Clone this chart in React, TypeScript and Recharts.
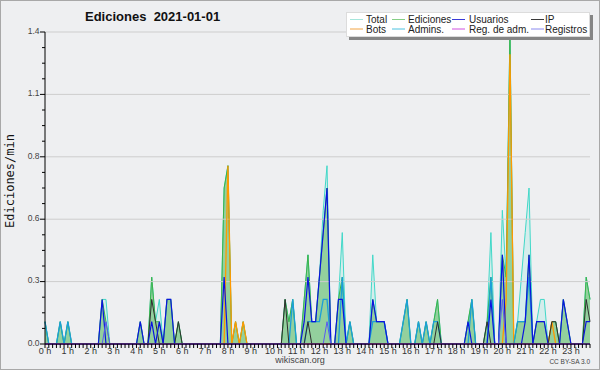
import React from 'react';
import { ComposedChart, Area, Line, XAxis, YAxis, ReferenceLine, Legend } from 'recharts';

// 10-minute slots, 6 per hour (one row per hour), values in edits/min
const total = [
  0.1, 0, 0, 0, 0.1, 0,
  0.1, 0, 0, 0, 0, 0,
  0, 0, 0, 0.2, 0.2, 0,
  0, 0, 0, 0, 0, 0,
  0, 0.1, 0, 0, 0.3, 0.1,
  0.2, 0, 0.2, 0.2, 0, 0.1,
  0, 0, 0, 0, 0, 0,
  0, 0, 0, 0, 0, 0.7,
  0.8, 0, 0.1, 0, 0.1, 0,
  0, 0, 0, 0, 0, 0,
  0, 0, 0, 0.2, 0.1, 0.2,
  0, 0, 0.2, 0.4, 0.1, 0.1,
  0.3, 0.6, 0.8, 0, 0, 0.2,
  0.5, 0, 0.1, 0, 0, 0,
  0, 0, 0.4, 0.1, 0.1, 0.1,
  0, 0, 0, 0, 0.1, 0.2,
  0, 0, 0.1, 0, 0.1, 0,
  0.1, 0.2, 0, 0, 0, 0,
  0, 0, 0, 0.1, 0.2, 0,
  0, 0, 0.1, 0.5, 0, 0,
  0.6, 0.3, 1.4, 0, 0.1, 0.3,
  0.5, 0.7, 0, 0.1, 0.2, 0.2,
  0, 0.1, 0.1, 0, 0.2, 0.1,
  0, 0, 0, 0, 0.3, 0.2,
];

const ediciones = [
  0.1, 0, 0, 0, 0.1, 0,
  0.1, 0, 0, 0, 0, 0,
  0, 0, 0, 0.2, 0.1, 0,
  0, 0, 0, 0, 0, 0,
  0, 0.1, 0, 0, 0.3, 0.1,
  0.1, 0, 0.2, 0.2, 0, 0.1,
  0, 0, 0, 0, 0, 0,
  0, 0, 0, 0, 0, 0.7,
  0.8, 0, 0.1, 0, 0.1, 0,
  0, 0, 0, 0, 0, 0,
  0, 0, 0, 0.2, 0.1, 0.2,
  0, 0, 0.2, 0.4, 0.1, 0.1,
  0.3, 0.5, 0.7, 0, 0, 0.2,
  0.3, 0, 0.1, 0, 0, 0,
  0, 0, 0.2, 0.1, 0.1, 0.1,
  0, 0, 0, 0, 0.1, 0.2,
  0, 0, 0.1, 0, 0.1, 0,
  0.1, 0.2, 0, 0, 0, 0,
  0, 0, 0, 0.1, 0.2, 0,
  0, 0, 0.1, 0.3, 0, 0,
  0.4, 0.3, 1.4, 0, 0.1, 0.1,
  0.1, 0.4, 0, 0.1, 0.1, 0.1,
  0, 0.1, 0.1, 0, 0.2, 0.1,
  0, 0, 0, 0, 0.3, 0.2,
];

const usuarios = [
  0, 0, 0, 0, 0, 0,
  0, 0, 0, 0, 0, 0,
  0, 0, 0, 0.2, 0, 0,
  0, 0, 0, 0, 0, 0,
  0, 0.1, 0, 0, 0.1, 0,
  0.1, 0, 0.2, 0.2, 0, 0,
  0, 0, 0, 0, 0, 0,
  0, 0, 0, 0, 0, 0.3,
  0, 0, 0, 0, 0, 0,
  0, 0, 0, 0, 0, 0,
  0, 0, 0, 0, 0, 0,
  0, 0, 0.1, 0.3, 0.1, 0.1,
  0.3, 0.5, 0.7, 0, 0, 0.2,
  0.2, 0, 0, 0, 0, 0,
  0, 0, 0.2, 0.1, 0.1, 0.1,
  0, 0, 0, 0, 0, 0,
  0, 0, 0, 0, 0, 0,
  0, 0, 0, 0, 0, 0,
  0, 0, 0, 0.1, 0, 0,
  0, 0, 0, 0.2, 0, 0,
  0.4, 0, 0, 0, 0, 0,
  0.1, 0.4, 0, 0.1, 0.1, 0.1,
  0, 0, 0, 0, 0.2, 0.1,
  0, 0, 0, 0, 0.1, 0.1,
];

const ip = [
  0, 0, 0, 0, 0, 0,
  0, 0, 0, 0, 0, 0,
  0, 0, 0, 0, 0, 0,
  0, 0, 0, 0, 0, 0,
  0, 0, 0, 0, 0.2, 0.1,
  0, 0, 0, 0, 0, 0.1,
  0, 0, 0, 0, 0, 0,
  0, 0, 0, 0, 0, 0,
  0, 0, 0, 0, 0, 0,
  0, 0, 0, 0, 0, 0,
  0, 0, 0, 0.2, 0, 0,
  0, 0, 0, 0.1, 0, 0,
  0, 0, 0, 0, 0, 0,
  0, 0, 0, 0, 0, 0,
  0, 0, 0, 0, 0, 0,
  0, 0, 0, 0, 0, 0,
  0, 0, 0, 0, 0, 0,
  0, 0.1, 0, 0, 0, 0,
  0, 0, 0, 0, 0, 0,
  0, 0, 0.1, 0, 0, 0,
  0, 0, 0, 0, 0, 0,
  0, 0, 0, 0, 0, 0,
  0, 0.1, 0.1, 0, 0, 0,
  0, 0, 0, 0, 0.2, 0.1,
];

const bots = [
  0, 0, 0, 0, 0, 0,
  0, 0, 0, 0, 0, 0,
  0, 0, 0, 0, 0, 0,
  0, 0, 0, 0, 0, 0,
  0, 0, 0, 0, 0, 0,
  0, 0, 0, 0, 0, 0,
  0, 0, 0, 0, 0, 0,
  0, 0, 0, 0, 0, 0,
  0.8, 0, 0.1, 0, 0.1, 0,
  0, 0, 0, 0, 0, 0,
  0, 0, 0, 0, 0, 0,
  0, 0, 0, 0, 0, 0,
  0, 0, 0, 0, 0, 0,
  0, 0, 0, 0, 0, 0,
  0, 0, 0, 0, 0, 0,
  0, 0, 0, 0, 0, 0,
  0, 0, 0, 0, 0, 0,
  0, 0, 0, 0, 0, 0,
  0, 0, 0, 0, 0, 0,
  0, 0, 0, 0, 0, 0,
  0, 0.2, 1.3, 0, 0, 0,
  0, 0, 0, 0, 0, 0,
  0, 0.1, 0, 0, 0, 0,
  0, 0, 0, 0, 0, 0,
];

const admins = [
  0.1, 0, 0, 0, 0.1, 0,
  0.1, 0, 0, 0, 0, 0,
  0, 0, 0, 0, 0, 0,
  0, 0, 0, 0, 0, 0,
  0, 0, 0, 0, 0, 0,
  0, 0, 0, 0, 0, 0,
  0, 0, 0, 0, 0, 0,
  0, 0, 0, 0, 0, 0,
  0, 0, 0, 0, 0, 0,
  0, 0, 0, 0, 0, 0,
  0, 0, 0, 0, 0, 0.2,
  0, 0, 0, 0.1, 0.1, 0.1,
  0.1, 0.2, 0.2, 0, 0, 0,
  0.3, 0, 0.1, 0, 0, 0,
  0, 0, 0.1, 0.1, 0.1, 0.1,
  0, 0, 0, 0, 0.1, 0.2,
  0, 0, 0.1, 0, 0.1, 0,
  0.1, 0.1, 0, 0, 0, 0,
  0, 0, 0, 0, 0.2, 0,
  0, 0, 0, 0.3, 0, 0,
  0, 0, 0, 0, 0.1, 0.1,
  0.1, 0.3, 0, 0, 0, 0,
  0, 0, 0, 0, 0, 0,
  0, 0, 0, 0, 0, 0,
];

const regAdm = new Array(144).fill(0);

const registros = [
  0, 0, 0, 0, 0, 0,
  0, 0, 0, 0, 0, 0,
  0, 0, 0, 0, 0.1, 0,
  0, 0, 0, 0, 0, 0,
  0, 0, 0, 0, 0, 0,
  0, 0, 0, 0, 0, 0,
  0, 0, 0, 0, 0, 0,
  0, 0, 0, 0, 0, 0,
  0, 0, 0, 0, 0, 0,
  0, 0, 0, 0, 0, 0,
  0, 0, 0, 0, 0, 0,
  0, 0, 0, 0, 0, 0,
  0, 0, 0.1, 0, 0, 0,
  0, 0, 0, 0, 0, 0,
  0, 0, 0, 0, 0, 0,
  0, 0, 0, 0, 0, 0,
  0, 0, 0, 0, 0, 0,
  0, 0, 0, 0, 0, 0,
  0, 0, 0, 0, 0, 0,
  0, 0, 0, 0, 0, 0,
  0.2, 0, 0, 0, 0, 0,
  0, 0, 0, 0, 0, 0,
  0, 0, 0, 0, 0, 0,
  0, 0, 0, 0, 0, 0,
];

const HOUR_LABELS = [
  '0 h', '1 h', '2 h', '3 h', '4 h', '5 h', '6 h', '7 h', '8 h', '9 h', '10 h', '11 h',
  '12 h', '13 h', '14 h', '15 h', '16 h', '17 h', '18 h', '19 h', '20 h', '21 h', '22 h', '23 h',
];
const Y_MAJOR = [0, 0.28, 0.56, 0.84, 1.12, 1.4];
const Y_LABELS = ['0.0', '0.3', '0.6', '0.8', '1.1', '1.4'];

const SERIES = [
  { key: 'total', name: 'Total', color: '#40d8c8', legend: '#a6e6dc' },
  { key: 'ediciones', name: 'Ediciones', color: '#3cb44b', legend: '#86cf86' },
  { key: 'usuarios', name: 'Usuarios', color: '#0a14e0', legend: '#3a3ad8' },
  { key: 'ip', name: 'IP', color: '#2e2e2e', legend: '#3a3a3a' },
  { key: 'bots', name: 'Bots', color: '#ff9900', legend: '#f2a445' },
  { key: 'admins', name: 'Admins.', color: '#1c9fd8', legend: '#4cc2e0' },
  { key: 'regAdm', name: 'Reg. de adm.', color: '#d040d8', legend: '#d050e0' },
  { key: 'registros', name: 'Registros', color: '#5a5af0', legend: '#8a8af0' },
];

const rows = total.map((_, i) => ({
  i,
  total: total[i],
  ediciones: ediciones[i],
  usuarios: usuarios[i],
  ip: ip[i],
  bots: bots[i],
  admins: admins[i],
  regAdm: regAdm[i],
  registros: registros[i],
}));

const xTicks = rows.map((r) => r.i);
const yTicks: number[] = [];
for (let k = 0; k < Y_MAJOR.length - 1; k++) {
  const a = Y_MAJOR[k];
  const step = (Y_MAJOR[k + 1] - a) / 4;
  for (let q = 0; q < 4; q++) yTicks.push(+(a + q * step).toFixed(4));
}
yTicks.push(1.4);

const SANS = "'Liberation Sans', Arial, sans-serif";

function XTick(props: any) {
  const { x, y, payload } = props;
  const v = payload.value as number;
  const lab = v % 6 === 0 ? HOUR_LABELS[v / 6] : null;
  return (
    <g>
      <line x1={x} x2={x} y1={y} y2={y + 4} stroke="#000" strokeWidth={1} />
      {lab && (
        <text x={x} y={y + 10} textAnchor="middle" fontSize={9} fill="#333" fontFamily={SANS}>
          {lab}
        </text>
      )}
    </g>
  );
}

function YTick(props: any) {
  const { x, y, payload } = props;
  const v = payload.value as number;
  const k = Y_MAJOR.findIndex((m) => Math.abs(m - v) < 1e-6);
  const major = k >= 0;
  return (
    <g>
      <line x1={x - (major ? 5 : 3)} x2={x} y1={y} y2={y} stroke="#000" strokeWidth={1} />
      {major && (
        <text x={x - 5.5} y={y + 1.8} textAnchor="end" fontSize={8.5} fill="#444" fontFamily={SANS}>
          {Y_LABELS[k]}
        </text>
      )}
    </g>
  );
}

const LEGEND_POS = [
  { line: 4, text: 20 },
  { line: 46, text: 62 },
  { line: 106, text: 123 },
  { line: 185, text: 199 },
];
const LEGEND_ORDER = ['total', 'ediciones', 'usuarios', 'ip', 'bots', 'admins', 'regAdm', 'registros'];

function LegendBox() {
  return (
    <svg width={250} height={30} style={{ display: 'block' }}>
      <rect x={3} y={3} width={244} height={25} fill="#858585" />
      <rect x={0.5} y={0.5} width={243} height={24} fill="#ffffff" stroke="#dcdcdc" />
      {LEGEND_ORDER.map((key, idx) => {
        const s = SERIES.find((q) => q.key === key)!;
        const col = LEGEND_POS[idx % 4];
        const cy = idx < 4 ? 7.5 : 17;
        return (
          <g key={key}>
            <line x1={col.line} x2={col.line + 13} y1={cy} y2={cy} stroke={s.legend} strokeWidth={1} />
            <text x={col.text} y={cy + 3.5} fontSize={10} fill="#222" fontFamily={SANS}>
              {s.name}
            </text>
          </g>
        );
      })}
    </svg>
  );
}

export default function App() {
  return (
    <div style={{ position: 'absolute', left: 0, top: 0, width: 600, height: 370, background: '#eeeff1' }}>
      <ComposedChart width={600} height={370} data={rows} margin={{ top: 32, right: 10, bottom: 0, left: 0 }}>
        {Y_MAJOR.slice(1).map((v) => (
          <ReferenceLine key={v} y={v} stroke="#cdcdcd" strokeWidth={1} />
        ))}
        <Area
          type="linear"
          dataKey="total"
          name="Total"
          stroke="#40d8c8"
          strokeWidth={1}
          fill="#40e0d0"
          fillOpacity={0.14}
          isAnimationActive={false}
          dot={false}
          activeDot={false}
        />
        <Line type="linear" dataKey="bots" name="Bots" stroke="#ff9900" strokeWidth={1.3} dot={false} activeDot={false} isAnimationActive={false} />
        <Area
          type="linear"
          dataKey="ediciones"
          name="Ediciones"
          stroke="#3cb44b"
          strokeWidth={1}
          fill="#5cb85c"
          fillOpacity={0.55}
          isAnimationActive={false}
          dot={false}
          activeDot={false}
        />
        <Line type="linear" dataKey="admins" name="Admins." stroke="#1c9fd8" strokeWidth={1.3} dot={false} activeDot={false} isAnimationActive={false} />
        <Line type="linear" dataKey="ip" name="IP" stroke="#2e2e2e" strokeWidth={1} dot={false} activeDot={false} isAnimationActive={false} />
        <Line type="linear" dataKey="usuarios" name="Usuarios" stroke="#0a14e0" strokeWidth={1.2} dot={false} activeDot={false} isAnimationActive={false} />
        <Line type="linear" dataKey="registros" name="Registros" stroke="#5a5af0" strokeWidth={1} dot={false} activeDot={false} isAnimationActive={false} />
        <Line type="linear" dataKey="regAdm" name="Reg. de adm." stroke="#d040d8" strokeWidth={1} dot={false} activeDot={false} isAnimationActive={false} />
        <XAxis
          dataKey="i"
          type="number"
          domain={[0, 143]}
          ticks={xTicks}
          interval={0}
          height={26}
          tickSize={0}
          tickMargin={0}
          tickLine={false}
          axisLine={{ stroke: '#000' }}
          tick={(p: any) => <XTick {...p} />}
        />
        <YAxis
          type="number"
          domain={[0, 1.4]}
          ticks={yTicks}
          interval={0}
          width={45}
          tickSize={0}
          tickMargin={0}
          tickLine={false}
          axisLine={{ stroke: '#000' }}
          tick={(p: any) => <YTick {...p} />}
        />
        <Legend
          layout="vertical"
          align="center"
          verticalAlign="middle"
          content={() => <LegendBox />}
          wrapperStyle={{ left: 346, top: 12, width: 250, height: 30 }}
        />
      </ComposedChart>
      <svg width={600} height={370} style={{ position: 'absolute', left: 0, top: 0, pointerEvents: 'none' }}>
        <rect x={0.5} y={0.5} width={599} height={369} fill="none" stroke="#a8a8a8" />
        <text x={85} y={21} fontSize={13} fontWeight="bold" fill="#111" fontFamily={SANS} style={{ whiteSpace: 'pre' }}>
          {'Ediciones  2021-01-01'}
        </text>
        <text
          x={13.5}
          y={181}
          transform="rotate(-90, 13.5, 181)"
          textAnchor="middle"
          fontSize={12}
          fill="#111"
          fontFamily="'DejaVu Sans Mono', monospace"
        >
          Ediciones/min
        </text>
        <text x={300} y={363} textAnchor="middle" fontSize={9} fill="#444" fontFamily={SANS}>
          wikiscan.org
        </text>
        <text x={590} y={364} textAnchor="end" fontSize={6.5} fill="#444" fontFamily={SANS}>
          CC BY-SA 3.0
        </text>
      </svg>
    </div>
  );
}
